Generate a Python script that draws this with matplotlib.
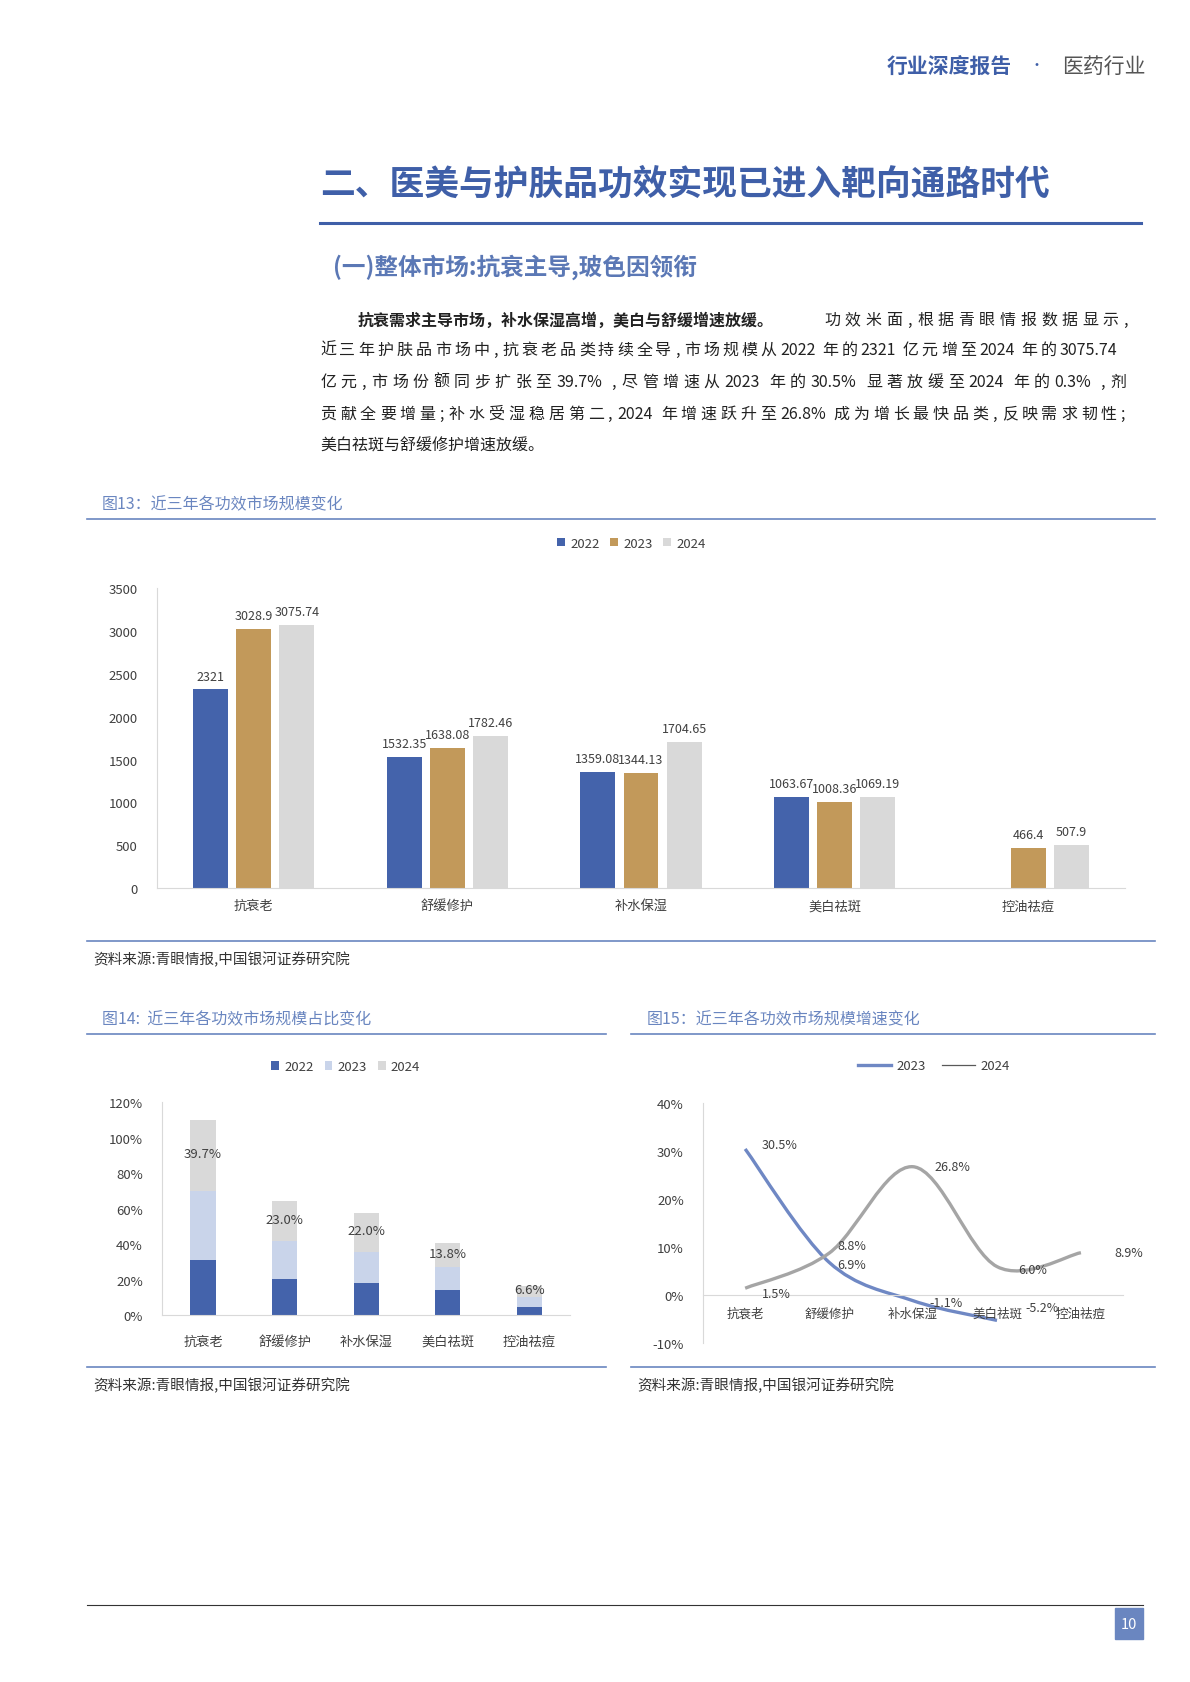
import matplotlib
matplotlib.use('Agg')
import matplotlib.pyplot as plt
import numpy as np
from matplotlib.path import Path
from matplotlib.patches import PathPatch, Rectangle
from matplotlib.lines import Line2D

plt.rcParams['font.family'] = ['Noto Sans CJK SC', 'DejaVu Sans']

# ---- data ----
categories = ['抗衰老', '舒缓修护', '补水保湿', '美白祛斑', '控油祛痘']
years = ['2022', '2023', '2024']
size_2022 = [2321, 1532.35, 1359.08, 1063.67, np.nan]
size_2023 = [3028.9, 1638.08, 1344.13, 1008.36, 466.4]
size_2024 = [3075.74, 1782.46, 1704.65, 1069.19, 507.9]

share_2022 = [31.2, 20.6, 18.2, 14.2, 4.9]
share_2023 = [38.9, 21.0, 17.4, 13.0, 5.2]
share_2024 = [39.7, 23.0, 22.0, 13.8, 6.6]

growth_2023 = [30.5, 6.9, -1.1, -5.2]
growth_2024 = [1.5, 8.8, 26.8, 6.0, 8.9]

BLUE = '#4463ab'
TITLE_BLUE = '#3f5fa8'
CAP_BLUE = '#6a86c0'
GOLD = '#c2995a'
GREY = '#d9d9d9'
LIGHT = '#c9d4ea'
TXT = '#404040'

W, H = 1100, 1556
fig = plt.figure(figsize=(11.9, 16.83), dpi=100)


def fx(x):
    return x / W


def fy(y):
    return 1 - y / H


def rect(x0, y0, x1, y1):
    return [fx(x0), fy(y1), fx(x1) - fx(x0), fy(y0) - fy(y1)]


def hline(y, x0, x1, color=CAP_BLUE, lw=1.2):
    fig.add_artist(Line2D([fx(x0), fx(x1)], [fy(y), fy(y)], color=color, lw=lw))


def spread_text(s, x0, x1, y, **kw):
    # justified line: runs of latin/digits stay together, each CJK char spaced out
    tokens = []
    cur = ''
    for ch in s:
        if ch.isascii() and ch not in ' ,;':
            cur += ch
        else:
            if cur:
                tokens.append(cur)
                cur = ''
            if ch != ' ':
                tokens.append(ch)
    if cur:
        tokens.append(cur)

    def weight(t):
        if t in ',;':
            return 0.5
        if t.isascii():
            return max(len(t) * 0.5, 1.0) + 0.2
        return 1.0
    weights = [weight(t) for t in tokens]
    total = sum(weights)
    pos = x0
    for t, w in zip(tokens, weights):
        fig.text(fx(pos), fy(y), t, ha='left', va='center', **kw)
        pos += (x1 - x0) * w / total


# ---- page text ----
fig.text(fx(935), fy(62), '行业深度报告', fontsize=15, weight='bold', color=TITLE_BLUE, ha='right', va='center')
fig.text(fx(958), fy(61), '•', fontsize=10, color=TITLE_BLUE, ha='center', va='center')
fig.text(fx(982), fy(62), '医药行业', fontsize=15, color='#555555', ha='left', va='center')

fig.text(fx(296), fy(170), '二、医美与护肤品功效实现已进入靶向通路时代', fontsize=25, weight='heavy',
         color=TITLE_BLUE, ha='left', va='center')
hline(207, 296, 1055, color=TITLE_BLUE, lw=2.2)
fig.text(fx(308), fy(247), '(一)整体市场:抗衰主导,玻色因领衔', fontsize=17, weight='bold',
         color='#5b78b5', ha='left', va='center')

fig.text(fx(331), fy(296), '抗衰需求主导市场，补水保湿高增，美白与舒缓增速放缓。', fontsize=11.5,
         weight='bold', color='#222222', ha='left', va='center')
spread_text('功效米面,根据青眼情报数据显示,', 762, 1048, 296, fontsize=11.5, color='#222222')
para = ['近三年护肤品市场中, 抗衰老品类持续全导, 市场规模从 2022 年的 2321 亿元增至 2024 年的 3075.74',
        '亿元,市场份额同步扩张至 39.7%,尽管增速从 2023 年的 30.5%显著放缓至 2024 年的 0.3%,剂',
        '贡献全要增量;补水受湿稳居第二, 2024 年增速跃升至 26.8%成为增长最快品类,反映需求韧性;']
for i, line in enumerate(para):
    spread_text(line, 296, 1045, 324 + i * 29.5, fontsize=11.5, color='#222222')
fig.text(fx(296), fy(412.5), '美白祛斑与舒缓修护增速放缓。', fontsize=11.5, color='#222222', ha='left', va='center')

# captions
fig.text(fx(94), fy(467), '图13：近三年各功效市场规模变化', fontsize=11.5, color=CAP_BLUE, va='center')
hline(481, 80, 1068)
hline(871, 80, 1068)
fig.text(fx(86), fy(887), '资料来源:青眼情报,中国银河证券研究院', fontsize=10.5, style='italic', color='#333333', va='center')

fig.text(fx(94), fy(943), '图14:  近三年各功效市场规模占比变化', fontsize=11.5, color=CAP_BLUE, va='center')
fig.text(fx(598), fy(943), '图15：近三年各功效市场规模增速变化', fontsize=11.5, color=CAP_BLUE, va='center')
hline(957, 80, 560)
hline(957, 583, 1068)
hline(1265, 80, 560)
hline(1265, 583, 1068)
fig.text(fx(86), fy(1281), '资料来源:青眼情报,中国银河证券研究院', fontsize=10.5, style='italic', color='#333333', va='center')
fig.text(fx(589), fy(1281), '资料来源:青眼情报,中国银河证券研究院', fontsize=10.5, style='italic', color='#333333', va='center')

hline(1485, 80, 1057, color='#333333', lw=0.8)
fig.add_artist(Rectangle((fx(1031), fy(1516)), fx(26), fy(1488) - fy(1516), color=CAP_BLUE))
fig.text(fx(1044), fy(1502), '10', fontsize=10.5, color='white', ha='center', va='center')


def style_axes(ax):
    for s in ['top', 'right']:
        ax.spines[s].set_visible(False)
    ax.spines['left'].set_color('#d9d9d9')
    ax.spines['bottom'].set_color('#d9d9d9')
    ax.tick_params(length=0, labelsize=9.5, colors=TXT, pad=8)


# ---- chart 1 ----
ax1 = fig.add_axes(rect(145, 545, 1040, 822))
x = np.arange(len(categories))
bw = 0.18
step = 0.223
for off, vals, c, lab in [(-step, size_2022, BLUE, '2022'), (0, size_2023, GOLD, '2023'), (step, size_2024, GREY, '2024')]:
    ax1.bar(x + off, vals, bw, color=c, label=lab)
    for xi, v in zip(x + off, vals):
        if not np.isnan(v):
            ax1.text(xi, v + 80, f'{v:g}', ha='center', va='bottom', fontsize=9, color=TXT)
ax1.set_xlim(-0.5, 4.5)
ax1.set_ylim(0, 3500)
ax1.set_yticks(range(0, 3501, 500))
ax1.set_xticks(x, categories)
style_axes(ax1)
ax1.tick_params(axis='y', pad=14)
ax1.legend(loc='lower center', bbox_to_anchor=(0.49, 1.09), ncol=3, frameon=False, fontsize=9.5,
           handlelength=0.6, handleheight=0.6, columnspacing=0.8, handletextpad=0.4, labelcolor=TXT)

# ---- chart 2 ----
ax2 = fig.add_axes(rect(150, 1020, 527, 1217))
bw2 = 0.31
b0 = np.array(share_2022)
b1 = np.array(share_2023)
b2 = np.array(share_2024)
ax2.bar(x, b0, bw2, color=BLUE, label='2022')
ax2.bar(x, b1, bw2, bottom=b0, color=LIGHT, label='2023')
ax2.bar(x, b2, bw2, bottom=b0 + b1, color=GREY, label='2024')
for xi, base, v in zip(x, b0 + b1, b2):
    ax2.text(xi, base + v / 2 + 1, f'{v:.1f}%', ha='center', va='center', fontsize=9.5, color=TXT)
ax2.set_xlim(-0.5, 4.5)
ax2.set_ylim(0, 120)
ax2.set_yticks(range(0, 121, 20), [f'{t}%' for t in range(0, 121, 20)])
ax2.set_xticks(x, categories)
style_axes(ax2)
ax2.tick_params(axis='x', pad=14)
ax2.tick_params(axis='y', pad=14)
ax2.legend(loc='lower center', bbox_to_anchor=(0.45, 1.08), ncol=3, frameon=False, fontsize=9.5,
           handlelength=0.6, handleheight=0.6, columnspacing=0.8, handletextpad=0.4, labelcolor=TXT)

# ---- chart 3 ----
ax3 = fig.add_axes(rect(650, 1021, 1038, 1243))


def smooth_path(xs, ys):
    pts = np.column_stack([xs, ys]).astype(float)
    verts = [pts[0]]
    codes = [Path.MOVETO]
    n = len(pts)
    for i in range(n - 1):
        p0 = pts[max(i - 1, 0)]
        p1 = pts[i]
        p2 = pts[i + 1]
        p3 = pts[min(i + 2, n - 1)]
        c1 = p1 + (p2 - p0) / 6
        c2 = p2 - (p3 - p1) / 6
        verts += [c1, c2, p2]
        codes += [Path.CURVE4] * 3
    return Path(verts, codes)


ax3.add_patch(PathPatch(smooth_path(x[:4], growth_2023), fill=False, edgecolor='#6f88c4', lw=2.4))
ax3.add_patch(PathPatch(smooth_path(x, growth_2024), fill=False, edgecolor='#a5a5a5', lw=2.4))
ax3.plot([], [], color='#6f88c4', lw=2.4, label='2023')
ax3.plot([], [], color='#595959', lw=0.9, label='2024')
off23 = [(0.2, 1.0), (0.1, -0.5), (0.2, -0.3), (0.34, 2.6)]
for xi, v, (dx, dy) in zip(x[:4], growth_2023, off23):
    ax3.text(xi + dx, v + dy, f'{v:.1f}%', ha='left', va='center', fontsize=9, color=TXT)
off24 = [(0.2, -1.0), (0.1, 1.5), (0.25, 0.0), (0.25, -0.6), (0.4, 0.0)]
for xi, v, (dx, dy) in zip(x, growth_2024, off24):
    ax3.text(xi + dx, v + dy, f'{v:.1f}%', ha='left', va='center', fontsize=9, color=TXT)
ax3.set_xlim(-0.5, 4.5)
ax3.set_ylim(-10, 40)
ax3.set_yticks(range(-10, 41, 10), [f'{t}%' for t in range(-10, 41, 10)])
ax3.set_xticks(x, categories)
style_axes(ax3)
ax3.spines['bottom'].set_position(('data', 0))
ax3.tick_params(axis='x', labelsize=9)
ax3.tick_params(axis='y', pad=14)
ax3.legend(loc='lower center', bbox_to_anchor=(0.55, 1.08), ncol=2, frameon=False, fontsize=9.5,
           handlelength=2.5, columnspacing=1.2, handletextpad=0.4, labelcolor=TXT)

fig.savefig('out.png', dpi=100)
